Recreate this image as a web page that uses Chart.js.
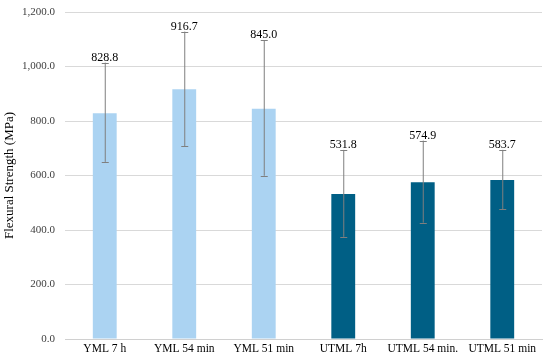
<!DOCTYPE html>
<html>
<head>
<meta charset="utf-8">
<script src="https://cdn.jsdelivr.net/npm/chart.js@4"></script>
<style>
  html, body { margin: 0; padding: 0; background: #fff; }
  #wrap { width: 550px; height: 360px; }
</style>
</head>
<body>
<div id="wrap"><canvas id="miGrafico"></canvas></div>
<script>
const categorias = ['YML 7 h', 'YML 54 min', 'YML 51 min', 'UTML 7h', 'UTML 54 min.', 'UTML 51 min'];
const valores = [828.8, 916.7, 845.0, 531.8, 574.9, 583.7];
const errorArriba = [1014, 1128, 1097, 694, 728, 694];
const errorAbajo = [650, 708, 599, 375, 427, 477];
const colores = ['#abd3f2', '#abd3f2', '#abd3f2', '#005f85', '#005f85', '#005f85'];

const fmt = v => v.toLocaleString('en-US', { minimumFractionDigits: 1, maximumFractionDigits: 1 });
const serif = '"Liberation Serif", "Times New Roman", serif';

// Barras de error y etiquetas con el valor encima
const errorBars = {
  id: 'errorBars',
  afterDatasetsDraw(chart) {
    const ctx = chart.ctx;
    const y = chart.scales.y;
    const meta = chart.getDatasetMeta(0);
    ctx.save();
    meta.data.forEach((bar, i) => {
      const x = bar.x;
      const yTop = y.getPixelForValue(errorArriba[i]);
      const yBot = y.getPixelForValue(errorAbajo[i]);
      ctx.strokeStyle = '#7f7f7f';
      ctx.lineWidth = 1;
      ctx.beginPath();
      ctx.moveTo(x + 0.5, yTop);
      ctx.lineTo(x + 0.5, yBot);
      ctx.moveTo(x - 3, Math.round(yTop) + 0.5);
      ctx.lineTo(x + 4, Math.round(yTop) + 0.5);
      ctx.moveTo(x - 3, Math.round(yBot) + 0.5);
      ctx.lineTo(x + 4, Math.round(yBot) + 0.5);
      ctx.stroke();

      ctx.fillStyle = '#000';
      ctx.font = '12px ' + serif;
      ctx.textAlign = 'center';
      ctx.textBaseline = 'bottom';
      ctx.fillText(fmt(valores[i]), x, yTop + 1);
    });
    ctx.restore();
  }
};

const ctx = document.getElementById('miGrafico').getContext('2d');
const myChart = new Chart(ctx, {
  type: 'bar',
  data: {
    labels: categorias,
    datasets: [{
      data: valores,
      backgroundColor: colores,
      barPercentage: 0.3,
      categoryPercentage: 1.0
    }]
  },
  options: {
    responsive: true,
    maintainAspectRatio: false,
    animation: false,
    layout: { padding: { top: 12, right: 8, left: 0, bottom: 0 } },
    plugins: {
      legend: { display: false },
      tooltip: { enabled: false }
    },
    scales: {
      x: {
        grid: { display: false, drawTicks: false },
        border: { color: '#d0d0d0' },
        afterFit: s => { s.height = 21; },
        ticks: {
          color: '#000',
          font: { family: serif, size: 11.5 },
          maxRotation: 0,
          autoSkip: false,
          padding: 3
        }
      },
      y: {
        min: 0,
        max: 1200,
        afterFit: s => { s.width = 65; s.paddingTop = 0; },
        ticks: {
          stepSize: 200,
          color: '#404040',
          font: { family: serif, size: 11 },
          padding: 10,
          callback: v => fmt(v)
        },
        grid: { color: '#d9d9d9', drawTicks: false },
        border: { display: false },
        title: {
          display: true,
          text: 'Flexural Strength (MPa)',
          color: '#000',
          font: { family: serif, size: 13 },
          padding: { top: 2, bottom: 0 }
        }
      }
    }
  },
  plugins: [errorBars]
});
</script>
</body>
</html>
